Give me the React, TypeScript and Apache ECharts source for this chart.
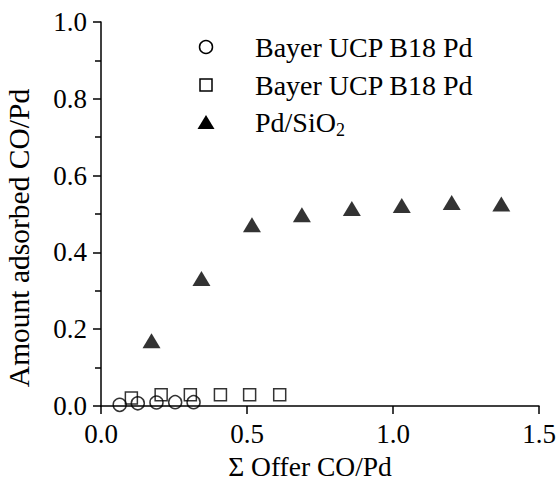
import React, { useEffect, useRef } from 'react';
import * as echarts from 'echarts';

const circleX = [0.064, 0.126, 0.19, 0.254, 0.317];
const circleY = [0.003, 0.007, 0.009, 0.01, 0.01];
const squareX = [0.104, 0.206, 0.306, 0.409, 0.509, 0.612];
const squareY = [0.021, 0.029, 0.029, 0.029, 0.029, 0.029];
const triX = [0.173, 0.344, 0.517, 0.688, 0.859, 1.03, 1.201, 1.371];
const triY = [0.17, 0.332, 0.472, 0.498, 0.514, 0.522, 0.53, 0.526];
const legendLabels = ['Bayer UCP B18 Pd', 'Bayer UCP B18 Pd', 'Pd/SiO{sub|2}'];
const xAxisTitle = 'Σ Offer CO/Pd';
const yAxisTitle = 'Amount adsorbed CO/Pd';

const FONT = '"Liberation Serif", "Times New Roman", serif';

export default function App() {
  const ref = useRef<HTMLDivElement>(null);
  useEffect(() => {
    document.body.style.margin = '0';
    const chart = echarts.init(ref.current!, null, { renderer: 'svg' });
    const zip = (xs: number[], ys: number[]) => xs.map((x, i) => [x, ys[i]]);
    const lx = 206;
    const tx = 255;
    const rows = [47, 85, 122];
    const textStyle = { fontFamily: FONT, fontSize: 28, fill: '#000', verticalAlign: 'middle', align: 'left' };
    chart.setOption({
      animation: false,
      backgroundColor: '#fff',
      grid: { left: 101, right: 17, top: 22, bottom: 74, containLabel: false, outerBoundsMode: 'none' },
      xAxis: {
        type: 'value', min: 0, max: 1.5, interval: 0.5,
        name: xAxisTitle, nameLocation: 'middle', nameGap: 46,
        nameTextStyle: { fontFamily: FONT, fontSize: 27.5, color: '#000', padding: [0, 20, 0, 0] },
        axisLine: { show: true, onZero: false, lineStyle: { color: '#000', width: 1.5 } },
        axisTick: { show: true, inside: false, length: 8, lineStyle: { color: '#000', width: 1.5 } },
        axisLabel: { fontFamily: FONT, fontSize: 27, color: '#000', margin: 14, formatter: (v: number) => v.toFixed(1) },
        splitLine: { show: false },
      },
      yAxis: {
        type: 'value', min: 0, max: 1, interval: 0.2,
        name: yAxisTitle, nameLocation: 'middle', nameGap: 67,
        nameTextStyle: { fontFamily: FONT, fontSize: 29.5, color: '#000', padding: [0, 48, 0, 0] },
        axisLine: { show: true, onZero: false, lineStyle: { color: '#000', width: 1.5 } },
        axisTick: { show: true, inside: false, length: 8, lineStyle: { color: '#000', width: 1.5 } },
        minorTick: { show: true, splitNumber: 2, length: 6, lineStyle: { color: '#000', width: 1.5 } },
        axisLabel: { fontFamily: FONT, fontSize: 27, color: '#000', margin: 14, formatter: (v: number) => v.toFixed(1) },
        splitLine: { show: false },
      },
      series: [
        {
          type: 'scatter', name: 'squares', data: zip(squareX, squareY), symbol: 'rect', symbolSize: 12,
          itemStyle: { color: 'rgba(0,0,0,0)', borderColor: '#000', borderWidth: 1.5 },
        },
        {
          type: 'scatter', name: 'circles', data: zip(circleX, circleY), symbol: 'circle', symbolSize: 13,
          itemStyle: { color: 'rgba(0,0,0,0)', borderColor: '#000', borderWidth: 1.5 },
        },
        {
          type: 'scatter', name: 'triangles', data: zip(triX, triY), symbol: 'triangle', symbolSize: [18, 15],
          itemStyle: { color: '#000' },
        },
      ],
      graphic: [
        { id: 'g0', type: 'circle', shape: { cx: lx, cy: rows[0], r: 6.5 }, style: { fill: 'none', stroke: '#000', lineWidth: 1.5 } },
        { id: 'g1', type: 'rect', shape: { x: lx - 6, y: rows[1] - 6, width: 12, height: 12 }, style: { fill: 'none', stroke: '#000', lineWidth: 1.5 } },
        { id: 'g2', type: 'polygon', shape: { points: [[lx, rows[2] - 7], [lx + 8.5, rows[2] + 7], [lx - 8.5, rows[2] + 7]] }, style: { fill: '#000' } },
        { id: 'g3', type: 'text', x: tx, y: rows[0], style: { ...textStyle, text: legendLabels[0] } },
        { id: 'g4', type: 'text', x: tx, y: rows[1], style: { ...textStyle, text: legendLabels[1] } },
        {
          id: 'g5', type: 'text', x: tx, y: rows[2],
          style: { ...textStyle, text: legendLabels[2], rich: { sub: { fontFamily: FONT, fontSize: 18, padding: [15, 0, 0, 0] } } },
        },
      ],
    });
    return () => chart.dispose();
  }, []);
  return <div ref={ref} style={{ width: 556, height: 480 }} />;
}
